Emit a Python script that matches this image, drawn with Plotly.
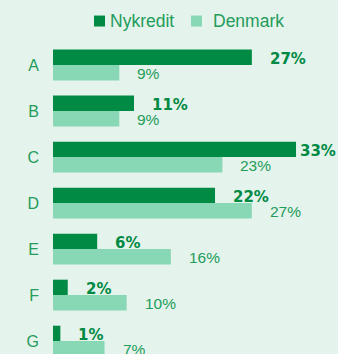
import plotly.graph_objects as go

categories = ["A", "B", "C", "D", "E", "F", "G"]
nykredit = [27, 11, 33, 22, 6, 2, 1]
denmark = [9, 9, 23, 27, 16, 10, 7]
series_names = ["Nykredit", "Denmark"]

DARK = "#008A44"
LIGHT = "#88D8B5"
BG = "#E4F3EB"
TXT = "#239C5B"

W, H = 338, 354
ML, MT = 53, 41.5
XMAX = 38.7
plot_w = W - ML
plot_h = H - MT
px_per = plot_w / XMAX

fig = go.Figure()
colors = [DARK, LIGHT]
for name, vals, col in zip(series_names, [nykredit, denmark], colors):
    fig.add_trace(go.Bar(y=categories, x=vals, name=name, orientation="h",
                         marker=dict(color=col, line=dict(width=0)), showlegend=False))

annotations = []
for cat, v in zip(categories, nykredit):
    label_w = 37
    if v * px_per + 16 + label_w > plot_w:
        ann = dict(x=XMAX, xanchor="right", xshift=0)
    else:
        ann = dict(x=v, xanchor="left", xshift=16)
    ann.update(y=cat, yanchor="middle", yshift=6, text=f"{v}%", showarrow=False,
               font=dict(family="DejaVu Sans", size=15, color=DARK, weight="bold"))
    annotations.append(ann)
for cat, v in zip(categories, denmark):
    annotations.append(dict(x=v, y=cat, xanchor="left", yanchor="middle", xshift=16, yshift=-8,
                            text=f"{v}%", showarrow=False,
                            font=dict(family="Liberation Sans", size=15.5, color=TXT)))


# legend drawn as swatches + labels above the plot area
def px_x(p):
    return (p - ML) / plot_w


def px_y(p):
    return (H - p) / plot_h


shapes = []
legend_items = [(94, 108), (191, 211)]
for (sx, tx), name, col in zip(legend_items, series_names, colors):
    shapes.append(dict(type="rect", xref="paper", yref="paper",
                       x0=px_x(sx), x1=px_x(sx + 11), y0=px_y(26), y1=px_y(15),
                       fillcolor=col, line=dict(width=0)))
    annotations.append(dict(xref="paper", yref="paper", x=px_x(tx), y=px_y(20.5),
                            xanchor="left", yanchor="middle", text=name, showarrow=False,
                            font=dict(family="Liberation Sans", size=17.5, color=TXT)))

fig.update_layout(
    template="none",
    width=W, height=H,
    margin=dict(l=ML, r=0, t=MT, b=0, pad=0),
    paper_bgcolor=BG, plot_bgcolor=BG,
    barmode="group", bargap=0.33, bargroupgap=0,
    showlegend=False,
    xaxis=dict(range=[0, XMAX], visible=False, fixedrange=True, automargin=False),
    yaxis=dict(type="category", categoryorder="array", categoryarray=categories,
               range=[6.28, -0.5], showgrid=False, zeroline=False, showline=False,
               automargin=False, ticks="", ticklabelstandoff=13,
               tickfont=dict(family="Liberation Sans", size=16, color=TXT)),
    annotations=annotations,
    shapes=shapes,
)

fig.write_html("out.html", config={"displayModeBar": False})
